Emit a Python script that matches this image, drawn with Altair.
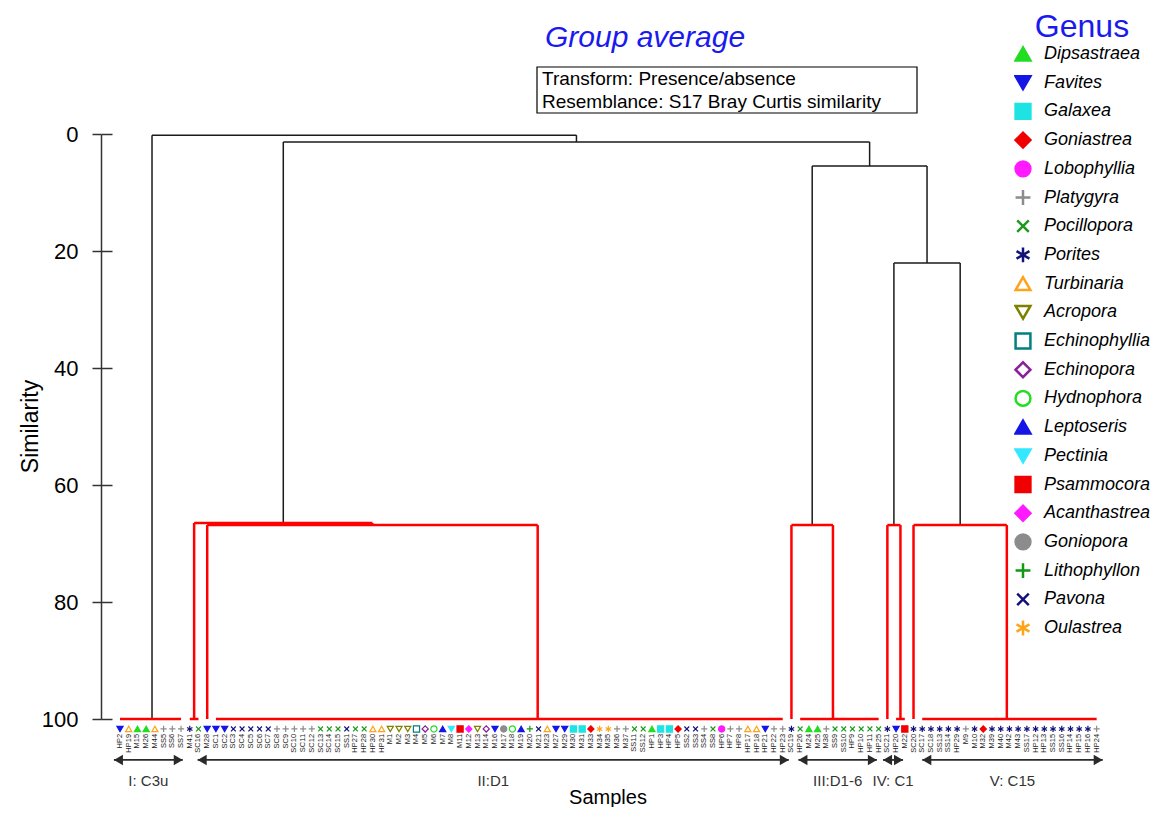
import altair as alt
import pandas as pd

# ---------------- data ----------------
samples = [
    "HP2", "HP19", "M15", "M26", "M44", "SS5", "SS6", "SS7",
    "M41", "SC16", "M28", "SC1", "SC2", "SC3", "SC4", "SC5", "SC6", "SC7", "SC8", "SC9",
    "SC10", "SC11", "SC12", "SC13", "SC14", "SC15", "SS1", "HP27", "HP28", "HP30", "HP31",
    "M1", "M2", "M3", "M4", "M5", "M6", "M7", "M8", "M11", "M12", "M13", "M14", "M16", "M17",
    "M18", "M19", "M20", "M21", "M23", "M27", "M29", "M30", "M31", "M33", "M34", "M35", "M36",
    "M37", "SS11", "SS12", "HP1", "HP3", "HP4", "HP5", "SS2", "SS3", "SS4", "SS8", "HP6",
    "HP7", "HP8", "HP17", "HP18", "HP21", "HP22", "HP23",
    "SC19", "HP26", "M24", "M25", "M38", "SS9", "SS10", "HP9", "HP10", "HP11", "HP25",
    "SC21", "HP20", "M22",
    "SC20", "SC17", "SC18", "SS13", "SS14", "HP29", "M9", "M10", "M32", "M39", "M40", "M42",
    "M43", "SS17", "HP12", "HP13", "SS15", "SS16", "HP14", "HP15", "HP16", "HP24",
]

sample_genus = [
    "Favites", "Turbinaria", "Dipsastraea", "Dipsastraea", "Turbinaria", "Platygyra", "Platygyra", "Platygyra",
    "Porites", "Pocillopora", "Favites", "Favites", "Favites", "Pavona", "Pavona", "Pavona", "Pavona", "Pavona",
    "Platygyra", "Platygyra", "Platygyra", "Platygyra", "Platygyra", "Pocillopora", "Pocillopora", "Pocillopora",
    "Pavona", "Pocillopora", "Pocillopora", "Turbinaria", "Turbinaria",
    "Acropora", "Acropora", "Acropora", "Echinophyllia", "Echinopora", "Hydnophora", "Leptoseris", "Pectinia",
    "Psammocora", "Acanthastrea", "Acropora", "Echinopora", "Favites", "Goniopora", "Hydnophora", "Leptoseris",
    "Lithophyllon", "Pavona", "Turbinaria", "Favites", "Favites", "Galaxea", "Galaxea", "Goniastrea",
    "Oulastrea", "Oulastrea", "Platygyra", "Platygyra", "Pocillopora", "Pocillopora", "Dipsastraea",
    "Galaxea", "Galaxea", "Goniastrea", "Pavona", "Pavona", "Platygyra", "Pocillopora", "Lobophyllia",
    "Platygyra", "Platygyra", "Turbinaria", "Turbinaria", "Favites", "Platygyra", "Platygyra",
    "Porites", "Pocillopora", "Dipsastraea", "Dipsastraea", "Platygyra", "Pocillopora", "Pocillopora",
    "Pocillopora", "Pocillopora", "Pocillopora", "Pocillopora",
    "Porites", "Favites", "Psammocora",
    "Porites", "Porites", "Porites", "Porites", "Porites", "Porites", "Platygyra", "Porites", "Goniastrea",
    "Porites", "Porites", "Porites", "Porites", "Porites", "Porites", "Porites", "Porites", "Porites",
    "Porites", "Porites", "Porites", "Platygyra",
]

genus_names = ["Dipsastraea", "Favites", "Galaxea", "Goniastrea", "Lobophyllia", "Platygyra",
               "Pocillopora", "Porites", "Turbinaria", "Acropora", "Echinophyllia", "Echinopora",
               "Hydnophora", "Leptoseris", "Pectinia", "Psammocora", "Acanthastrea", "Goniopora",
               "Lithophyllon", "Pavona", "Oulastrea"]

PLUS = "M-1,0L1,0M0,-1L0,1"
CROSS = "M-0.78,-0.78L0.78,0.78M-0.78,0.78L0.78,-0.78"
STAR = "M0,-1L0,1M-0.87,-0.5L0.87,0.5M-0.87,0.5L0.87,-0.5"
genus_shapes = ["triangle-up", "triangle-down", "square", "diamond", "circle", PLUS,
                CROSS, STAR, "triangle-up", "triangle-down", "square", "diamond",
                "circle", "triangle-up", "triangle-down", "square", "diamond", "circle",
                PLUS, CROSS, STAR]
genus_colors = ["#22dd22", "#1515e6", "#1ee3e3", "#f00000", "#ff1aff", "#8c8c8c",
                "#1d9a1d", "#12127a", "#ffa31a", "#808000", "#008080", "#8b1f9b",
                "#22dd22", "#1515e6", "#33e8ff", "#f00000", "#ff1aff", "#8c8c8c",
                "#119911", "#12127a", "#ffa31a"]
genus_filled = [True, True, True, True, True, False, False, False, False, False, False, False,
                False, True, True, True, True, True, False, False, False]

# dendrogram: groups of samples joined at 100 % similarity (first leaf, last leaf, node position)
group_first = [1, 9, 11, 12, 78, 79, 89, 90, 92, 93]
group_last = [8, 10, 11, 77, 78, 88, 89, 91, 92, 113]
group_node = [4.67, 9.5, 11, 48.9, 78, 82.76, 89, 90.5, 92, 102.7]

# merges between groups / earlier merges, with their similarity level
merge_left = ["g2", "g1", "g4", "g6", "g8", "m3", "m2", "m1", "g0"]
merge_right = ["g3", "m0", "g5", "g7", "g9", "m4", "m5", "m6", "m7"]
merge_sim = [66.85, 66.5, 66.85, 66.85, 66.85, 22.05, 5.47, 1.37, 0.2]

cluster_names = ["I: C3u", "II:D1", "III:D1-6", "IV: C1", "V: C15"]
cluster_start = [0.3, 9.9, 78.8, 88.5, 93.0]
cluster_end = [8.2, 77.7, 87.8, 90.8, 113.7]

y_ticks = [0, 20, 40, 60, 80, 100]
box_lines = ["Transform: Presence/absence", "Resemblance: S17 Bray Curtis similarity"]

# ---------------- tables built from the arrays ----------------
pos, hgt, seg_rows = {}, {}, []
for i, (a, b, p) in enumerate(zip(group_first, group_last, group_node)):
    pos[f"g{i}"], hgt[f"g{i}"] = p, 100
    if b > a:
        seg_rows.append(dict(x=a, x2=b, y=100, y2=100, kind="red"))
for j, (l, r, s) in enumerate(zip(merge_left, merge_right, merge_sim)):
    kind = "red" if s > 50 else "black"
    seg_rows.append(dict(x=pos[l], x2=pos[r], y=s, y2=s, kind=kind))
    for c in (l, r):
        seg_rows.append(dict(x=pos[c], x2=pos[c], y=hgt[c], y2=s, kind=kind))
    pos[f"m{j}"], hgt[f"m{j}"] = (pos[l] + pos[r]) / 2, s
seg_df = pd.DataFrame(seg_rows)

leaf_df = pd.DataFrame({"idx": range(1, len(samples) + 1), "sample": samples, "genus": sample_genus})
clu_df = pd.DataFrame({"name": cluster_names, "start": cluster_start, "end": cluster_end})
clu_df["mid"] = (clu_df["start"] + clu_df["end"]) / 2

FONT = "Liberation Sans"
xs = alt.Scale(domain=[-1.18, 113.5], nice=False, zero=False)
ys = alt.Scale(domain=[0, 100], reverse=True, nice=False, zero=False)

y_axis = alt.Axis(values=y_ticks, format="d", grid=False, domainColor="#333333", domainWidth=1.5,
                  tickColor="#333333", tickWidth=1.5, tickSize=9, labelFontSize=22, labelColor="black",
                  labelPadding=14, title="Similarity", titleFontSize=23, titleFontWeight="normal",
                  titleColor="black", titleX=-71, titleY=292, titleBaseline="middle", orient="left")
y_axis_in = alt.Axis(values=y_ticks, grid=False, domain=False, labels=False, tickColor="#333333",
                     tickWidth=1.5, tickSize=11, offset=-11, orient="left", title="")

black = alt.Chart(seg_df).transform_filter("datum.kind == 'black'").mark_rule(
    color="#1a1a1a", strokeWidth=1.5).encode(
    x=alt.X("x:Q", scale=xs, axis=None), x2="x2:Q",
    y=alt.Y("y:Q", scale=ys, axis=y_axis), y2="y2:Q")
red = alt.Chart(seg_df).transform_filter("datum.kind == 'red'").mark_rule(
    color="#ff0000", strokeWidth=2.5).encode(
    x=alt.X("x:Q", scale=xs, axis=None), x2="x2:Q",
    y=alt.Y("y:Q", scale=ys, axis=y_axis_in), y2="y2:Q")

legend = alt.Legend(title="Genus", orient="none", legendX=913, legendY=-122, padding=0,
                    titleFontSize=32, titleColor="#1a1aee", titleFontWeight="normal", titleFont=FONT,
                    titleAnchor="middle", titlePadding=-4,
                    labelFontSize=18, labelFontStyle="italic", labelColor="black", labelFont=FONT,
                    labelOffset=12, labelLimit=300, symbolSize=220, symbolStrokeWidth=2.5,
                    symbolOpacity=1, clipHeight=28, rowPadding=0.7)
fills = [c if f else "transparent" for c, f in zip(genus_colors, genus_filled)]
points = alt.Chart(leaf_df).mark_point(size=38, strokeWidth=1.2, opacity=1).encode(
    x=alt.X("idx:Q", scale=xs, axis=None),
    y=alt.YDatum(101.7, axis=None),
    shape=alt.Shape("genus:N", scale=alt.Scale(domain=genus_names, range=genus_shapes), legend=legend),
    fill=alt.Fill("genus:N", scale=alt.Scale(domain=genus_names, range=fills), legend=legend),
    stroke=alt.Stroke("genus:N", scale=alt.Scale(domain=genus_names, range=genus_colors), legend=legend),
)
leaf_labels = alt.Chart(leaf_df).mark_text(angle=270, align="right", baseline="middle", fontSize=7.5,
                                           color="#222222").encode(
    x=alt.X("idx:Q", scale=xs, axis=None), y=alt.YDatum(102.55, axis=None), text="sample:N")

arrow_line = alt.Chart(clu_df).mark_rule(color="#2a2a2a", strokeWidth=1.8).encode(
    x=alt.X("start:Q", scale=xs, axis=None), x2="end:Q", y=alt.YDatum(107, axis=None))
arrow_l = alt.Chart(clu_df).mark_point(shape="triangle-left", filled=True, size=110, color="#2a2a2a",
                                       opacity=1).encode(
    x=alt.X("start:Q", scale=xs, axis=None), y=alt.YDatum(107, axis=None), xOffset=alt.value(4.5))
arrow_r = alt.Chart(clu_df).mark_point(shape="triangle-right", filled=True, size=110, color="#2a2a2a",
                                       opacity=1).encode(
    x=alt.X("end:Q", scale=xs, axis=None), y=alt.YDatum(107, axis=None), xOffset=alt.value(-4.5))
clu_text = alt.Chart(clu_df).mark_text(fontSize=15, color="#333333", baseline="middle").encode(
    x=alt.X("mid:Q", scale=xs, axis=None), y=alt.YDatum(110.6, axis=None), text="name:N")

xtitle_df = pd.DataFrame({"t": ["Samples"]})
x_title = alt.Chart(xtitle_df).mark_text(fontSize=20, color="black", align="center",
                                         baseline="middle").encode(
    text="t:N", x=alt.value(507), y=alt.value(664))

title_df = pd.DataFrame({"t": ["Group average"]})
title = alt.Chart(title_df).mark_text(fontSize=30, fontStyle="italic", color="#1a1aee",
                                      align="center", baseline="middle").encode(
    text="t:N", x=alt.value(544), y=alt.value(-96))
box_df = pd.DataFrame({"t": ["\n".join(box_lines)]})
box = alt.Chart(box_df).mark_rect(fill="white", stroke="black", strokeWidth=1.2).encode(
    x=alt.value(436), x2=alt.value(816), y=alt.value(-67), y2=alt.value(-21))
box_text = alt.Chart(box_df).mark_text(fontSize=19, color="black", align="left", baseline="top",
                                       lineBreak="\n", lineHeight=23).encode(
    text="t:N", x=alt.value(441), y=alt.value(-64))

chart = alt.layer(black, red, points, leaf_labels, arrow_line, arrow_l, arrow_r, clu_text, x_title,
                  title, box, box_text
                  ).resolve_axis(y="independent").properties(
    width=1000, height=585, autosize=alt.AutoSizeParams(type="none"),
    padding={"left": 93, "top": 126, "right": 56, "bottom": 88},
).configure(font=FONT).configure_view(strokeWidth=0)

chart.save("out.html", embed_options={"renderer": "svg", "actions": False})
